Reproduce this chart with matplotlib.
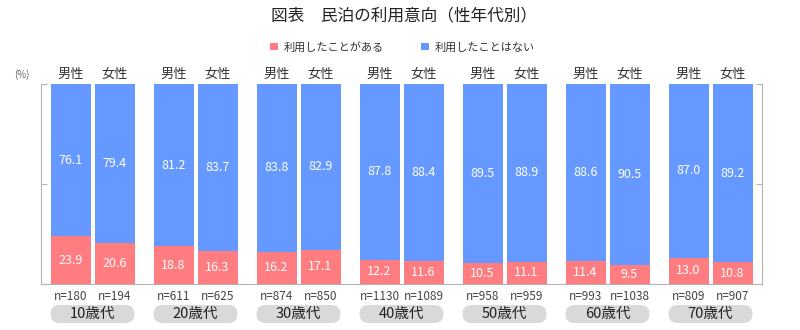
import matplotlib
matplotlib.use("Agg")
import matplotlib.pyplot as plt
from matplotlib.patches import Patch, FancyBboxPatch
from matplotlib import transforms
import numpy as np

plt.rcParams['font.family'] = ['Noto Sans CJK JP', 'DejaVu Sans']

title = "図表　民泊の利用意向（性年代別）"
age_groups = ["10歳代", "20歳代", "30歳代", "40歳代", "50歳代", "60歳代", "70歳代"]
sex_labels = ["男性", "女性"]
series_names = ["利用したことがある", "利用したことはない"]

male_used = [23.9, 18.8, 16.2, 12.2, 10.5, 11.4, 13.0]
male_not = [76.1, 81.2, 83.8, 87.8, 89.5, 88.6, 87.0]
female_used = [20.6, 16.3, 17.1, 11.6, 11.1, 9.5, 10.8]
female_not = [79.4, 83.7, 82.9, 88.4, 88.9, 90.5, 89.2]
male_n = [180, 611, 874, 1130, 958, 993, 809]
female_n = [194, 625, 850, 1089, 959, 1038, 907]

RED = "#FF7C80"
BLUE = "#6699FF"
SPINE = "#b4b4b4"

fig = plt.figure(figsize=(8, 3.3), dpi=100)
ax = fig.add_axes([41/800, 1-284/330, (762-41)/800, 200/330])

x = np.arange(len(age_groups))
w = 40/103
off = 22/103
blend = transforms.blended_transform_factory(ax.transData, ax.transAxes)

for xs, used, notu, ns, lab in [(x - off, male_used, male_not, male_n, sex_labels[0]),
                                 (x + off, female_used, female_not, female_n, sex_labels[1])]:
    ax.bar(xs, used, width=w, color=RED, linewidth=0)
    ax.bar(xs, notu, width=w, bottom=used, color=BLUE, linewidth=0)
    for xi, u, nn, n in zip(xs, used, notu, ns):
        ax.text(xi, u/2, f"{u:.1f}", ha='center', va='center', color='white', fontsize=9)
        ax.text(xi, u + nn/2, f"{nn:.1f}", ha='center', va='center', color='white', fontsize=9)
        ax.text(xi, 1.05, lab, transform=blend,
                ha='center', va='center', fontsize=9.5, color='#333333')
        ax.text(xi, -0.06, f"n={n}", transform=blend,
                ha='center', va='center', fontsize=8.5, color='#444444')

half = 42/103
for xi, g in zip(x, age_groups):
    box = FancyBboxPatch((xi - half, -0.195), 2*half, 0.09,
                         boxstyle="round,pad=0,rounding_size=0.087",
                         mutation_aspect=103/200,
                         transform=blend, clip_on=False,
                         facecolor="#d9d9d9", edgecolor='none')
    ax.add_patch(box)
    ax.text(xi, -0.15, g, transform=blend, ha='center', va='center', fontsize=10.5, color='#222222')

ax.set_xlim(-0.5, len(age_groups) - 0.5)
ax.set_ylim(0, 100)
ax.set_xticks([])
ax.set_yticks([0, 50, 100])
ax.set_yticklabels([])
ax.tick_params(axis='y', direction='in', length=4, color=SPINE, left=True, right=True)
for s in ['left', 'right', 'bottom']:
    ax.spines[s].set_color(SPINE)
ax.spines['top'].set_visible(False)

fig.text(22/800, 1-75/330, "(%)", ha='center', va='center', fontsize=7, color='#666666')
fig.text(404/800, 1-16/330, title, ha='center', va='center', fontsize=12, color='#222222')

handles = [Patch(facecolor=RED, edgecolor='none'), Patch(facecolor=BLUE, edgecolor='none')]
fig.legend(handles, series_names, loc='center', bbox_to_anchor=(0.503, 1-47/330), ncol=2,
           frameon=False, fontsize=8, handlelength=0.7, handleheight=0.7,
           handletextpad=0.5, columnspacing=3.4, labelcolor='#333333')

fig.savefig("out.png", dpi=100)
